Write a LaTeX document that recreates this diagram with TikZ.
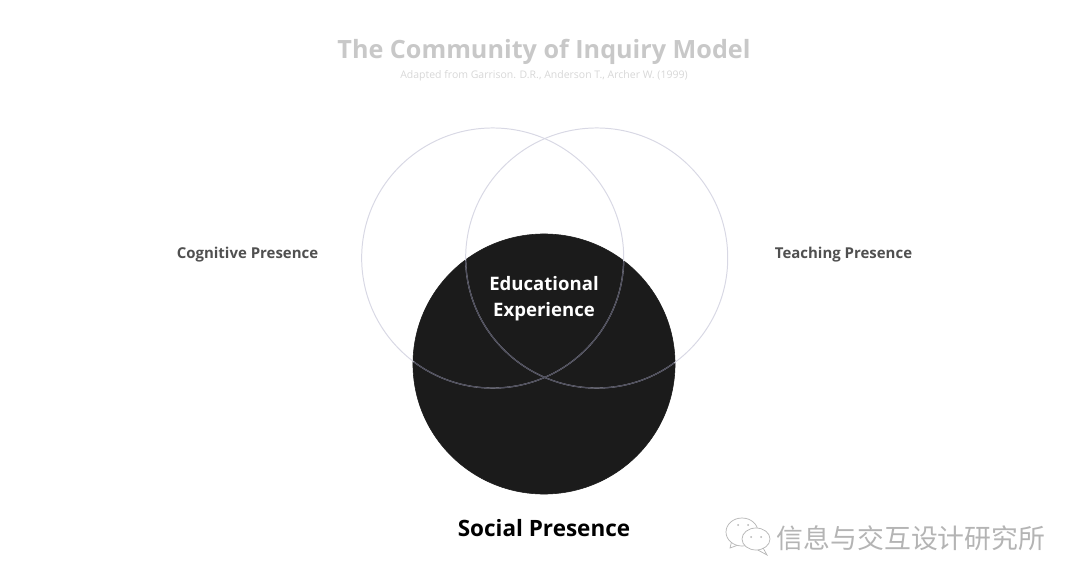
\documentclass[tikz,border=0pt]{standalone}
\usepackage{fontspec}
\setmainfont{Open Sans}
\newfontfamily\cjkfont{Noto Sans CJK SC}
\usepackage{xcolor}
\usepackage{tikz}
\usetikzlibrary{shapes.geometric}
\definecolor{CoITitle}{RGB}{200, 200, 200}
\definecolor{CoINote}{RGB}{215, 215, 215}
\definecolor{CoIRing}{RGB}{216, 216, 228}
\definecolor{CoIInner}{RGB}{78, 78, 92}
\definecolor{CoIDark}{RGB}{27, 27, 27}
\definecolor{CoILabel}{RGB}{80, 80, 80}
\definecolor{CoIMark}{RGB}{180, 180, 180}

\begin{document}
\begin{tikzpicture}[x=0.025cm, y=-0.025cm]
  \tikzstyle{ring} = [ellipse, draw=CoIRing, line width=0.7pt, minimum width=6.55cm, minimum height=6.5cm, inner sep=0pt]
  \tikzstyle{disc} = [ellipse, draw=CoIDark, fill=CoIDark, minimum width=6.55cm, minimum height=6.5cm, inner sep=0pt]
  \tikzstyle{side} = [text=CoILabel, font=\fontsize{10.65}{13}\selectfont\bfseries]
  \tikzstyle{bubble} = [ellipse, draw=CoIMark, fill=white, line width=0.5pt, inner sep=0pt]
  \tikzstyle{eye} = [circle, fill=CoIMark, minimum size=0.05cm, inner sep=0pt]
  \useasboundingbox (0,0) rectangle (1080,586);

  \node [disc] (social) at (544,364) {};
  \node [ring] (cognitive) at (492.7,258) {};
  \node [ring] (teaching) at (596.7,258) {};
  \begin{scope}
    \clip (544,364) ellipse (130.5 and 129.5);
    \node [ring, draw=CoIInner, line width=0.9pt] (cognitiveinner) at (492.7,258) {};
    \node [ring, draw=CoIInner, line width=0.9pt] (teachinginner) at (596.7,258) {};
  \end{scope}

  \node [text=CoITitle, font=\fontsize{17.9}{22}\selectfont\bfseries] (title) at (544,52) {The Community of Inquiry Model};
  \node [text=CoINote, font=\fontsize{7.46}{9}\selectfont] (source) at (544,76) {Adapted from Garrison. D.R., Anderson T., Archer W. (1999)};
  \node [side] (cognitivelabel) at (247.5,255) {Cognitive Presence};
  \node [side] (teachinglabel) at (843.5,255) {Teaching Presence};
  \node [text=white, align=center, font=\fontsize{13.2}{18.5}\selectfont\bfseries] (centre) at (544,299) {Educational\\Experience};
  \node [text=black, font=\fontsize{16}{20}\selectfont\bfseries] (sociallabel) at (544,528.5) {Social Presence};

  % watermark
  \draw [CoIMark, line width=0.5pt, fill=white] (732,540) -- (730,548) -- (741,544) -- cycle;
  \node [bubble, minimum width=0.8cm, minimum height=0.7cm] (chatback) at (742,532) {};
  \draw [CoIMark, line width=0.5pt, fill=white] (762,546) -- (767,555) -- (756,549) -- cycle;
  \node [bubble, minimum width=0.7cm, minimum height=0.55cm] (chatfront) at (756,539) {};
  \foreach \ex/\ey in {738/525, 748/525, 751/537, 761/537}
    \node [eye] (eye\ex) at (\ex,\ey) {};
  \node [text=CoIMark, font=\cjkfont\fontsize{19.1}{22}\selectfont] (mark) at (911,538) {信息与交互设计研究所};
\end{tikzpicture}
\end{document}
